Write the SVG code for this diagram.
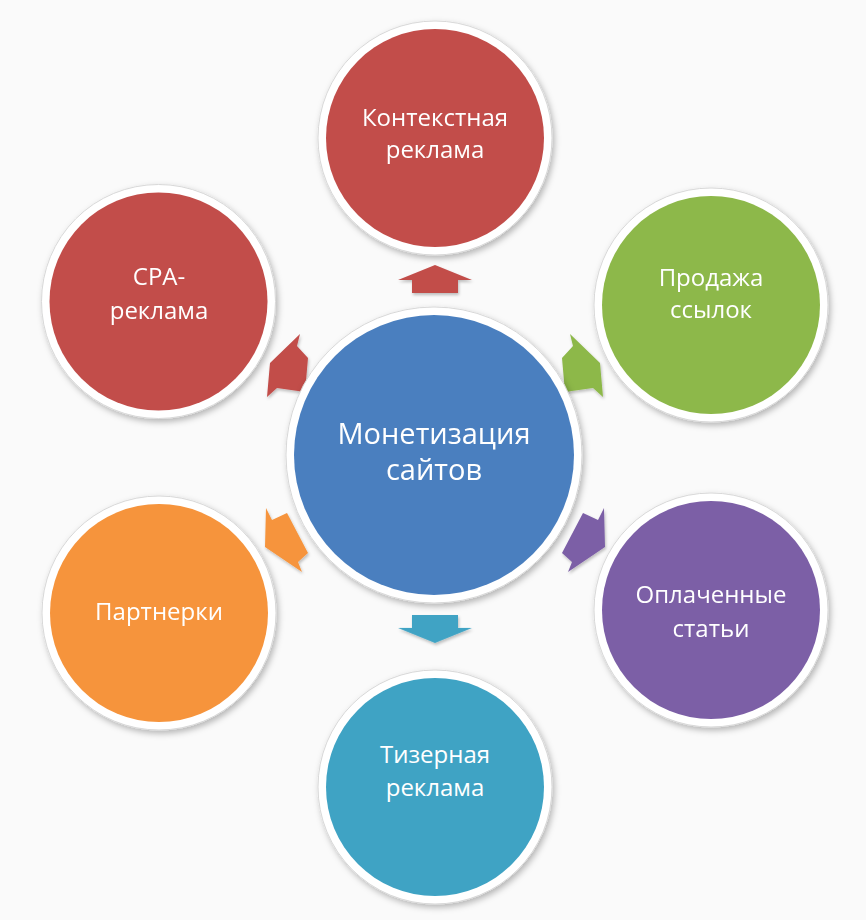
<svg xmlns="http://www.w3.org/2000/svg" width="866" height="920" viewBox="0 0 866 920">
<defs>
<filter id="sh" x="-20%" y="-20%" width="140%" height="140%">
<feDropShadow dx="2" dy="3" stdDeviation="3" flood-color="#000" flood-opacity="0.28"/>
</filter>
<filter id="ash" x="-30%" y="-30%" width="160%" height="160%">
<feDropShadow dx="1" dy="2" stdDeviation="1.5" flood-color="#000" flood-opacity="0.25"/>
</filter>
<path id="arr" d="M0,-15 L37,0 L23,0 L23,13 L-23,13 L-23,0 L-37,0 Z"/>
</defs>
<style>
.ring{fill:#ffffff;stroke:#d8d8d8;stroke-width:1;filter:url(#sh)}
.t{font-family:"Open Sans","Liberation Sans",sans-serif;font-size:24px;fill:#ffffff;text-anchor:middle}
.tc{font-family:"Open Sans","Liberation Sans",sans-serif;font-size:29px;fill:#ffffff;text-anchor:middle}
</style>
<rect width="866" height="920" fill="#fafafa"/>
<g id="connectors" filter="url(#ash)">
<use href="#arr" transform="translate(435,280)" fill="#c24d4a"/>
<use href="#arr" transform="translate(435,628) rotate(180)" fill="#3fa3c4"/>
<polygon points="270,363 300,334 297,346 308,358 305,392 277,388 267,397" fill="#c24d4a"/>
<polygon points="600,363 570,334 573,346 562,358 565,392 593,388 603,397" fill="#8db84a"/>
<polygon points="605,547 604,508 598,520 583,513 562,553 572,562 568,572" fill="#7c5fa6"/>
<polygon points="265,547 266,508 272,520 287,513 308,553 298,562 302,572" fill="#f6943c"/>
</g>
<g id="center">
<circle class="ring" cx="434" cy="455" r="148"/>
<circle cx="434" cy="455" r="140" fill="#4a7fbf"/>
<text class="tc" x="434" y="444">Монетизация</text>
<text class="tc" x="434" y="480">сайтов</text>
</g>
<g id="context">
<circle class="ring" cx="435" cy="138" r="117"/>
<circle cx="435" cy="138" r="109" fill="#c24d4a"/>
<text class="t" x="435" y="126">Контекстная</text>
<text class="t" x="435" y="158">реклама</text>
</g>
<g id="cpa">
<circle class="ring" cx="158.5" cy="301.5" r="117"/>
<circle cx="158.5" cy="301.5" r="109" fill="#c24d4a"/>
<text class="t" x="159" y="285">CPA-</text>
<text class="t" x="159" y="319">реклама</text>
</g>
<g id="links">
<circle class="ring" cx="711" cy="305" r="117"/>
<circle cx="711" cy="305" r="109" fill="#8db84a"/>
<text class="t" x="711" y="286">Продажа</text>
<text class="t" x="711" y="318">ссылок</text>
</g>
<g id="articles">
<circle class="ring" cx="711" cy="610" r="117"/>
<circle cx="711" cy="610" r="109" fill="#7c5fa6"/>
<text class="t" x="711" y="603">Оплаченные</text>
<text class="t" x="711" y="637">статьи</text>
</g>
<g id="partners">
<circle class="ring" cx="159" cy="613" r="117"/>
<circle cx="159" cy="613" r="109" fill="#f6943c"/>
<text class="t" x="159" y="620">Партнерки</text>
</g>
<g id="teaser">
<circle class="ring" cx="435" cy="787" r="117"/>
<circle cx="435" cy="787" r="109" fill="#3fa3c4"/>
<text class="t" x="435" y="763">Тизерная</text>
<text class="t" x="435" y="796">реклама</text>
</g>
</svg>
